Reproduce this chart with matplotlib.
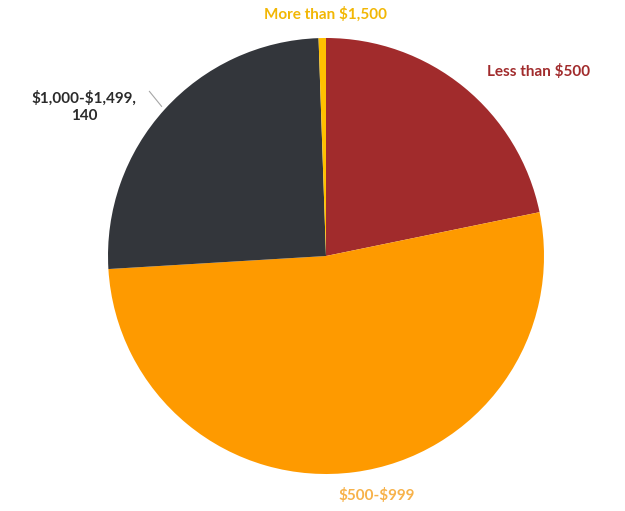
import numpy as np
import matplotlib.pyplot as plt

# price bands, counts per band
labels = ["Less than $500", "$500-$999", "$1,000-$1,499", "More than $1,500"]
counts = [120, 288, 140, 3]
colors = ["#A12B2C", "#FE9A00", "#33363B", "#FFC000"]
label_colors = ["#A12B2C", "#F7B24A", "#2B2B2B", "#F2B705"]

plt.rcParams['font.family'] = ['Lato', 'DejaVu Sans']
plt.rcParams['text.parse_math'] = False  # dollar signs are literal

W, H = 625, 511
fig = plt.figure(figsize=(W / 100, H / 100), dpi=100)
ax = fig.add_axes([0, 0, 1, 1])

# pie centre and radius in pixels
cx, cy, r = 326, 256, 218

wedges, _ = ax.pie(counts, colors=colors, startangle=90, counterclock=False,
                   radius=1, center=(0, 0), frame=True,
                   wedgeprops=dict(linewidth=0))
ax.set_xlim(-cx / r, (W - cx) / r)
ax.set_ylim(-(H - cy) / r, cy / r)
ax.set_aspect('auto')
ax.axis('off')

fs = 11
ax.text(0.0, 1.11, labels[3], color=label_colors[3], ha='center', va='center',
        fontsize=fs, fontweight='bold')
ax.text(0.977, 0.845, labels[0], color=label_colors[0], ha='center', va='center',
        fontsize=fs, fontweight='bold')
ax.text(0.234, -1.10, labels[1], color=label_colors[1], ha='center', va='center',
        fontsize=fs, fontweight='bold')
ax.text(-1.11, 0.683, f"{labels[2]},\n{counts[2]}", color=label_colors[2],
        ha='center', va='center', fontsize=fs, fontweight='bold', linespacing=1.3)

# leader line toward the middle of the $1,000-$1,499 wedge
w = wedges[2]
mid = np.deg2rad((w.theta1 + w.theta2) / 2)
ex, ey = 1.02 * np.cos(mid), 1.02 * np.sin(mid)
ax.plot([-0.81, ex], [0.755, ey], color="#A6A6A6", lw=0.8)

fig.savefig("out.png", dpi=100)
